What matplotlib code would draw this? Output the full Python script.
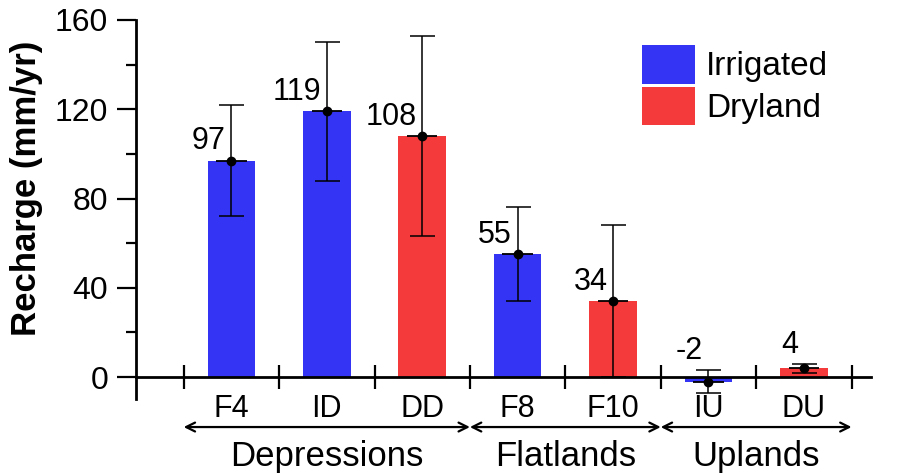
"""
Mean groundwater recharge by landscape position, irrigated vs dryland sites.
"""

import matplotlib.pyplot as plt
from matplotlib.patches import Patch

plt.rcParams['font.family'] = ['Liberation Sans', 'DejaVu Sans']

# site data
sites = ["F4", "ID", "DD", "F8", "F10", "IU", "DU"]
recharge = [97, 119, 108, 55, 34, -2, 4]
err = [25, 31, 45, 21, 34, 5, 2]
land_use = ["Irrigated", "Irrigated", "Dryland", "Irrigated", "Dryland", "Irrigated", "Dryland"]

# landscape groups: (name, first site index, last site index)
groups = [("Depressions", 0, 2), ("Flatlands", 3, 4), ("Uplands", 5, 6)]

colors = {"Irrigated": "#3434f4", "Dryland": "#f43a3a"}


if __name__ == "__main__":

	fig = plt.figure(figsize=(8.97, 4.76), dpi=100)
	ax = fig.add_axes([0.1516, 0.161, 0.819, 0.797])

	x = list(range(len(sites)))

	# bars
	ax.bar(x, recharge, width=0.5, color=[colors[u] for u in land_use], zorder=2)

	# error bars with mean markers
	ax.errorbar(x, recharge, yerr=err, fmt="o", color="black", ms=6,
		elinewidth=1.1, capsize=9, capthick=1.1, zorder=3)
	ax.hlines(recharge, [i - 0.16 for i in x], [i + 0.16 for i in x],
		color="black", lw=1.3, zorder=3)

	# value labels above each bar (above the error bar for tiny ones)
	for i, v, e in zip(x, recharge, err):
		anchor = v if v >= 20 else v + e
		ax.annotate(str(v), (i, anchor), xytext=(-4, 8), textcoords="offset points",
			ha="right", va="baseline", fontsize=22)

	# axes limits and spines
	ax.set_xlim(-1.0, 6.7)
	ax.set_ylim(-10, 160)
	ax.spines["top"].set_visible(False)
	ax.spines["right"].set_visible(False)
	ax.spines["bottom"].set_position(("data", 0))
	ax.spines["left"].set_linewidth(2)
	ax.spines["bottom"].set_linewidth(2)

	# y ticks
	ax.set_yticks([0, 40, 80, 120, 160])
	ax.set_yticks([20, 60, 100, 140], minor=True)
	ax.tick_params(axis="y", which="major", direction="out", length=14, width=1.6,
		labelsize=23, pad=6)
	ax.tick_params(axis="y", which="minor", direction="out", length=7, width=1.6)

	# x ticks: separators between sites, labels centred on sites
	ax.set_xticks([i - 0.5 for i in x] + [len(sites) - 0.5])
	ax.set_xticklabels([])
	ax.set_xticks(x, minor=True)
	ax.set_xticklabels(sites, minor=True)
	ax.tick_params(axis="x", which="major", direction="inout", length=17, width=1.6)
	ax.tick_params(axis="x", which="minor", length=0, labelsize=22, pad=12)

	# group arrows and names below the axis
	for name, first, last in groups:
		ax.annotate("", xy=(first - 0.5, -22.4), xytext=(last + 0.5, -22.4),
			arrowprops=dict(arrowstyle="<->", lw=1.6, color="black",
				shrinkA=0, shrinkB=0, mutation_scale=16),
			annotation_clip=False)
		ax.text((first + last) / 2, -35.5, name, ha="center", va="center",
			fontsize=25, clip_on=False)

	fig.text(27 / 897, 1 - 188 / 476, "Recharge (mm/yr)", rotation=90,
		ha="center", va="center", fontsize=25, fontweight="bold")

	# legend
	handles = [Patch(facecolor=colors[k], edgecolor="none") for k in ["Irrigated", "Dryland"]]
	ax.legend(handles, ["Irrigated", "Dryland"], loc="upper left",
		bbox_to_anchor=(642 / 897, 1 - 45 / 476), bbox_transform=fig.transFigure,
		frameon=False, fontsize=24, handlelength=1.6, handleheight=1.4,
		handletextpad=0.33, labelspacing=0.1, borderpad=0, borderaxespad=0)

	fig.savefig("out.png", dpi=100)
